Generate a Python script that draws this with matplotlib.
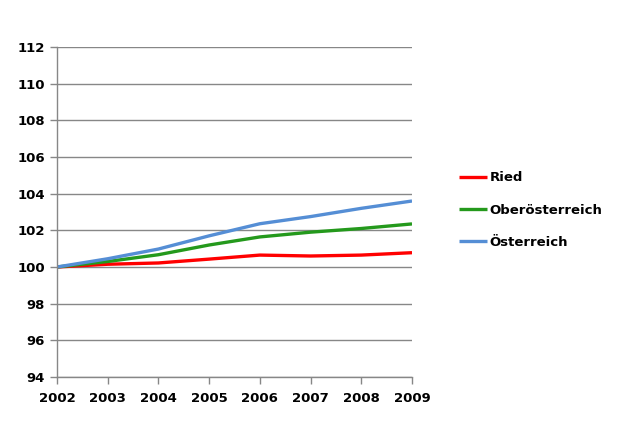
import matplotlib
matplotlib.use("Agg")
import matplotlib.pyplot as plt

years = [2002, 2003, 2004, 2005, 2006, 2007, 2008, 2009]
ried = [100.0, 100.15, 100.22, 100.43, 100.65, 100.6, 100.65, 100.78]
ooe = [100.0, 100.3, 100.67, 101.2, 101.64, 101.9, 102.1, 102.35]
oesterreich = [100.0, 100.45, 100.98, 101.7, 102.36, 102.75, 103.2, 103.6]
labels = ["Ried", "Oberösterreich", "Österreich"]
colors = ["#ff0000", "#24991c", "#558ed5"]
yticks = list(range(94, 113, 2))

fig = plt.figure(figsize=(6.31, 4.32), dpi=100)
ax = fig.add_axes([57/631, 1-377/432, (412-57)/631, (377-47)/432])

for vals, lab, col in zip([ried, ooe, oesterreich], labels, colors):
    ax.plot(years, vals, color=col, lw=2.4, label=lab, solid_capstyle="butt")

ax.set_xlim(years[0], years[-1])
ax.set_ylim(94, 112)
ax.set_yticks(yticks)
ax.set_xticks(years)
ax.yaxis.grid(True, color="#878787", lw=1)
ax.set_axisbelow(True)
for s in ["top", "right"]:
    ax.spines[s].set_visible(False)
for s in ["left", "bottom"]:
    ax.spines[s].set_color("#878787")
    ax.spines[s].set_linewidth(1)
ax.tick_params(axis="both", colors="#878787", length=5, width=1, labelcolor="black",
               labelsize=9.5)
ax.tick_params(axis="x", pad=6)
for t in ax.get_xticklabels() + ax.get_yticklabels():
    t.set_fontweight("bold")

leg = ax.legend(loc="center left", bbox_to_anchor=(459/631, 1-210/432),
                bbox_transform=fig.transFigure, frameon=False,
                handlelength=2.1, handletextpad=0.2, labelspacing=1.45,
                borderaxespad=0, borderpad=0, prop={"weight": "bold", "size": 9.5})

fig.savefig("out.png", dpi=100)
